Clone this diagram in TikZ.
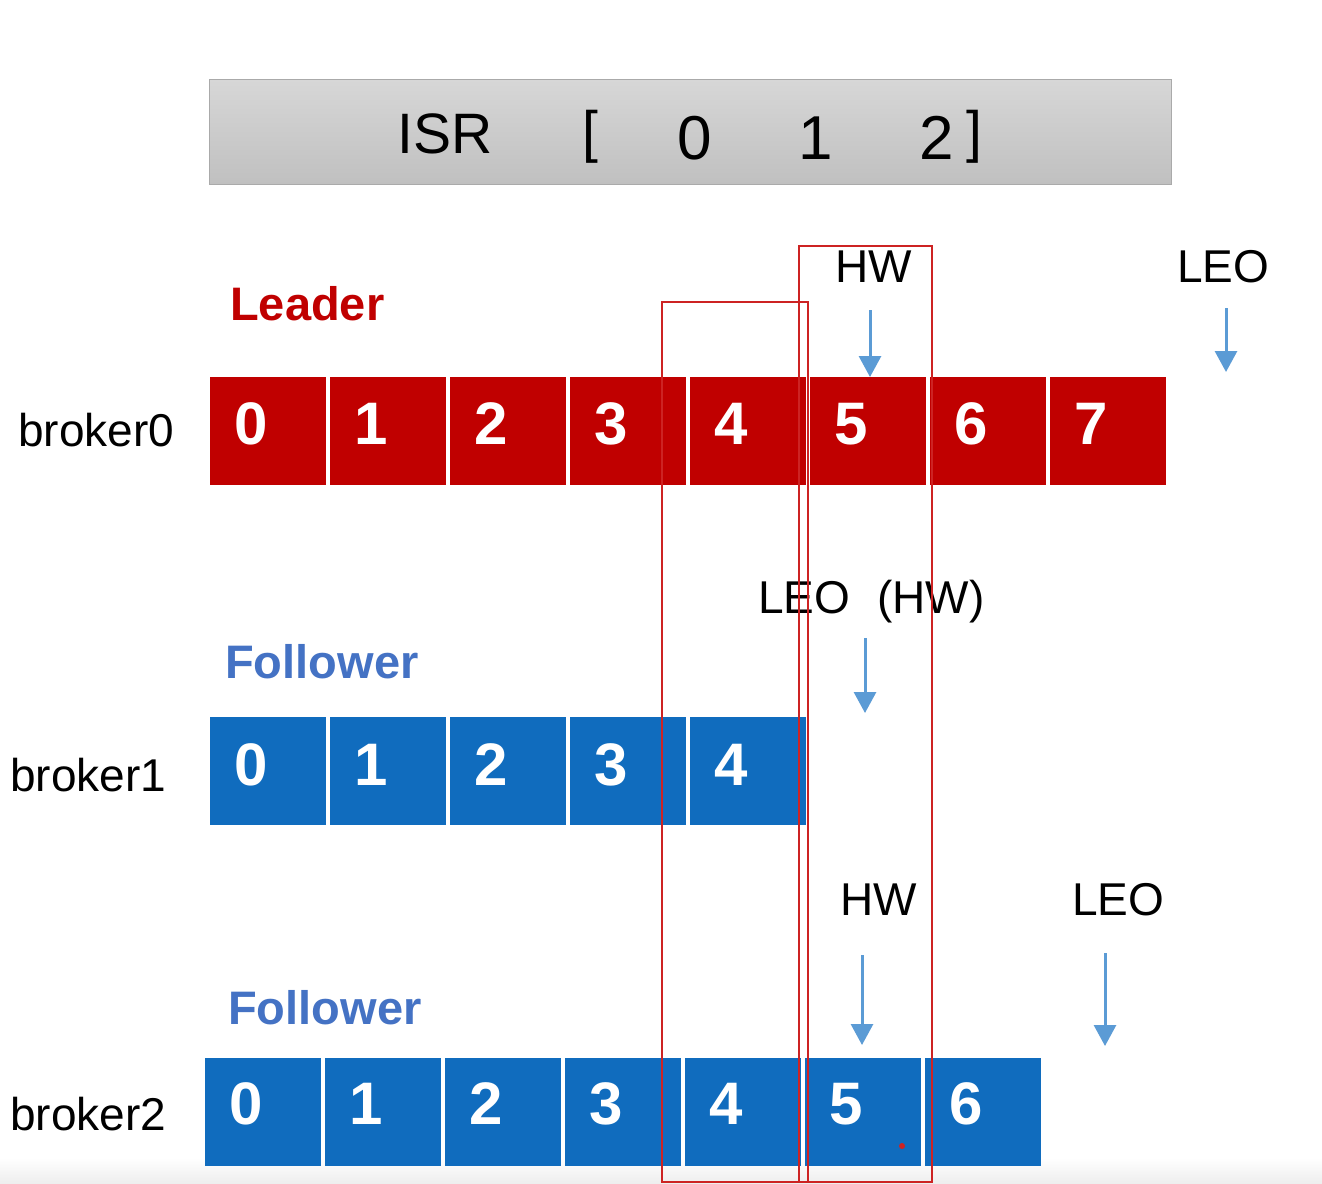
\documentclass[tikz,border=0pt]{standalone}
\usepackage{fontspec}
\setmainfont{Liberation Sans}
\usetikzlibrary{arrows.meta}
\definecolor{cellred}{RGB}{192,0,0}
\definecolor{cellblue}{RGB}{16,108,190}
\definecolor{folblue}{RGB}{68,114,196}
\definecolor{arrblue}{RGB}{91,155,213}
\definecolor{boxred}{RGB}{205,35,35}
\definecolor{bartop}{RGB}{215,215,215}
\definecolor{barbot}{RGB}{192,192,192}
\definecolor{barline}{RGB}{170,170,170}
\begin{document}
\begin{tikzpicture}[x=1pt,y=-1pt,
  cellbox/.style={draw=none, minimum width=116pt, minimum height=108pt, inner sep=0pt, anchor=north west},
  redcell/.style={cellbox, fill=cellred},
  bluecell/.style={cellbox, fill=cellblue},
  num/.style={font=\fontsize{60}{60}\selectfont\bfseries, text=white, inner sep=0pt, anchor=center},
  lbl/.style={font=\fontsize{46}{46}\selectfont, text=black, anchor=base west, inner sep=0pt},
  rolelbl/.style={font=\fontsize{47}{47}\selectfont\bfseries, anchor=base west, inner sep=0pt},
  isrtxt/.style={font=\fontsize{57}{57}\selectfont, inner sep=0pt},
  isrnum/.style={font=\fontsize{62}{62}\selectfont, inner sep=0pt, anchor=base},
  arr/.style={draw=arrblue, line width=3pt, -{Triangle[width=22pt,length=21pt,fill=arrblue]}},
  redframe/.style={draw=boxred, line width=2pt}
]
\useasboundingbox (0,0) rectangle (1322,1183);
\fill[white] (0,0) rectangle (1322,1183);
\shade[top color=white, bottom color={rgb,255:red,238;green,238;blue,238}] (0,1158) rectangle (1322,1183);

% ISR bar
\shade[top color=bartop, bottom color=barbot, draw=barline, line width=1pt] (209,79) rectangle (1171,184);
\node[isrtxt, anchor=base west] (isr) at (397,153) {ISR};
\node[isrtxt, anchor=center] (lbr) at (590,137) {[};
\node[isrnum] (i0) at (695,159) {0};
\node[isrnum] (i1) at (816,159) {1};
\node[isrnum] (i2) at (937,159) {2};
\node[isrtxt, anchor=center] (rbr) at (974,137) {]};

% role labels
\node[rolelbl, text=cellred] (leader) at (230,320) {Leader};
\node[rolelbl, text=folblue] (fol1) at (225,678) {Follower};
\node[rolelbl, text=folblue] (fol2) at (228,1024) {Follower};

% broker labels
\node[lbl] (br0) at (18,446) {broker0};
\node[lbl] (br1) at (10,791) {broker1};
\node[lbl] (br2) at (10,1130) {broker2};

% broker0 cells
\foreach \i in {0,...,7} {
  \node[redcell] (b0c\i) at (210+120*\i,377) {};
  \node[num] (b0n\i) at (251+120*\i,424) {\i};
}
% broker1 cells
\foreach \i in {0,...,4} {
  \node[bluecell] (b1c\i) at (210+120*\i,717) {};
  \node[num] (b1n\i) at (251+120*\i,765) {\i};
}
% broker2 cells
\foreach \i in {0,...,6} {
  \node[bluecell] (b2c\i) at (205+120*\i,1058) {};
  \node[num] (b2n\i) at (246+120*\i,1104) {\i};
}

% pointer labels
\node[lbl] (hw0) at (835,282) {HW};
\node[lbl] (leo0) at (1177,282) {LEO};
\node[lbl] (leo1) at (758,613) {LEO};
\node[lbl] (hw1) at (877,613) {(HW)};
\node[lbl] (hw2) at (840,915) {HW};
\node[lbl] (leo2) at (1072,915) {LEO};

% arrows
\coordinate (ahw0s) at (870,310);  \coordinate (ahw0e) at (870,377);
\coordinate (aleo0s) at (1226,308); \coordinate (aleo0e) at (1226,372);
\coordinate (ahw1s) at (865,638);  \coordinate (ahw1e) at (865,713);
\coordinate (ahw2s) at (862,955);  \coordinate (ahw2e) at (862,1045);
\coordinate (aleo2s) at (1105,953); \coordinate (aleo2e) at (1105,1046);
\draw[arr] (ahw0s) -- (ahw0e);
\draw[arr] (aleo0s) -- (aleo0e);
\draw[arr] (ahw1s) -- (ahw1e);
\draw[arr] (ahw2s) -- (ahw2e);
\draw[arr] (aleo2s) -- (aleo2e);

% red frames
\draw[redframe] (662,302) rectangle (808,1182);
\draw[redframe] (799,246) rectangle (932,1182);

% small red dot
\fill[boxred] (902,1146) circle (3);
\end{tikzpicture}
\end{document}
